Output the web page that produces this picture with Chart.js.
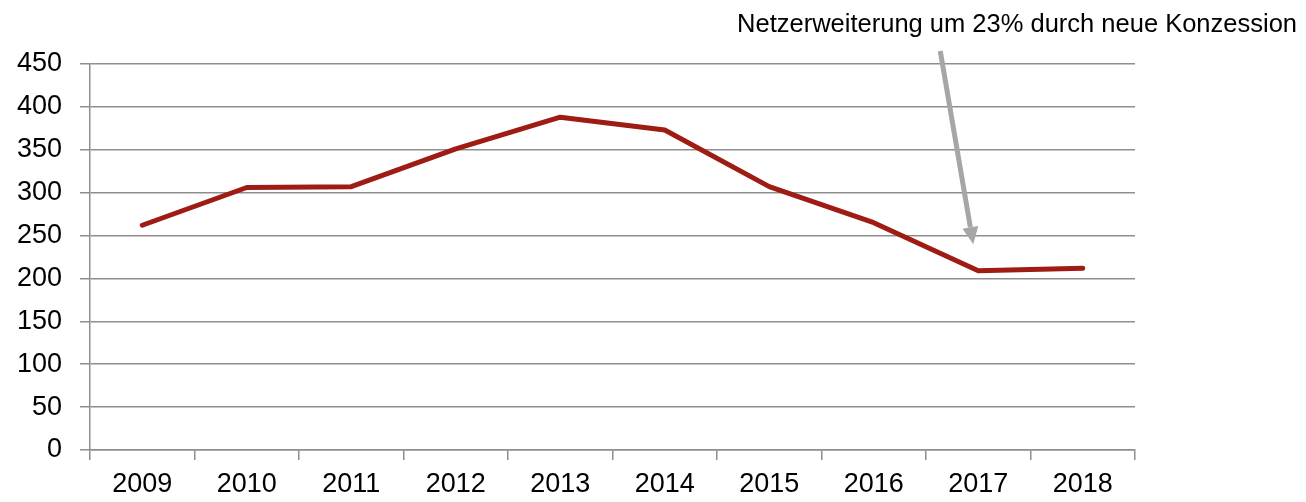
<!DOCTYPE html>
<html>
<head>
<meta charset="utf-8">
<script src="https://cdn.jsdelivr.net/npm/chart.js@4/dist/chart.umd.min.js"></script>
<style>
  html, body { margin: 0; padding: 0; background: #fff; }
  #wrap { width: 1306px; height: 502px; }
</style>
</head>
<body>
<div id="wrap"><canvas id="netChart" width="1306" height="502"></canvas></div>
<script>
const years = ['2009', '2010', '2011', '2012', '2013', '2014', '2015', '2016', '2017', '2018'];
const values = [262, 306, 307, 351, 388, 373, 307, 265, 209, 212];
const yTicks = [0, 50, 100, 150, 200, 250, 300, 350, 400, 450];
const noteText = 'Netzerweiterung um 23% durch neue Konzession';
const noteYear = '2017';
const noteValue = 240;

const FONT = "'Liberation Sans', Arial, sans-serif";
const gridColor = '#8e8e8e';

// arrow + text annotation
const notePlugin = {
  id: 'note',
  afterDraw(chart) {
    const ctx = chart.ctx;
    const x = chart.scales.x, y = chart.scales.y;
    const tipX = x.getPixelForValue(years.indexOf(noteYear)) - 5;
    const tipY = y.getPixelForValue(noteValue);
    const startX = tipX - 33, startY = 51;
    ctx.save();
    ctx.font = '25.5px ' + FONT;
    ctx.fillStyle = '#000';
    ctx.textAlign = 'right';
    ctx.textBaseline = 'alphabetic';
    ctx.fillText(noteText, 1297, 32);

    const ang = Math.atan2(tipY - startY, tipX - startX);
    const headLen = 17, headW = 8;
    const bx = tipX - headLen * Math.cos(ang), by = tipY - headLen * Math.sin(ang);
    ctx.strokeStyle = '#a6a6a6';
    ctx.fillStyle = '#a6a6a6';
    ctx.lineWidth = 5;
    ctx.beginPath();
    ctx.moveTo(startX, startY);
    ctx.lineTo(bx, by);
    ctx.stroke();
    ctx.beginPath();
    ctx.moveTo(tipX, tipY);
    ctx.lineTo(bx + headW * Math.sin(ang), by - headW * Math.cos(ang));
    ctx.lineTo(bx - headW * Math.sin(ang), by + headW * Math.cos(ang));
    ctx.closePath();
    ctx.fill();
    ctx.restore();
  }
};

new Chart(document.getElementById('netChart').getContext('2d'), {
  type: 'line',
  data: {
    labels: years,
    datasets: [{
      data: values,
      borderColor: '#9e1c14',
      borderWidth: 5,
      borderCapStyle: 'round',
      borderJoinStyle: 'round',
      pointRadius: 0,
      tension: 0,
      fill: false
    }]
  },
  options: {
    responsive: false,
    animation: false,
    devicePixelRatio: 1,
    layout: { padding: { top: 64, right: 171, left: 0, bottom: 0 } },
    plugins: { legend: { display: false }, tooltip: { enabled: false }, title: { display: false } },
    scales: {
      x: {
        offset: true,
        grid: { offset: true, drawOnChartArea: false, color: gridColor, lineWidth: 1.5, tickLength: 10 },
        border: { color: gridColor, width: 1.5 },
        ticks: { color: '#000', font: { family: FONT, size: 27 }, padding: 8, maxRotation: 0 },
        afterFit(s) { s.height = 52; }
      },
      y: {
        min: 0,
        max: 450,
        afterBuildTicks(s) { s.ticks = yTicks.map(v => ({ value: v })); },
        grid: { color: gridColor, lineWidth: 1.5, tickLength: 10 },
        border: { color: gridColor, width: 1.5 },
        ticks: { color: '#000', font: { family: FONT, size: 27 }, padding: 18 },
        afterFit(s) { s.width = 90; }
      }
    }
  },
  plugins: [notePlugin]
});
</script>
</body>
</html>
